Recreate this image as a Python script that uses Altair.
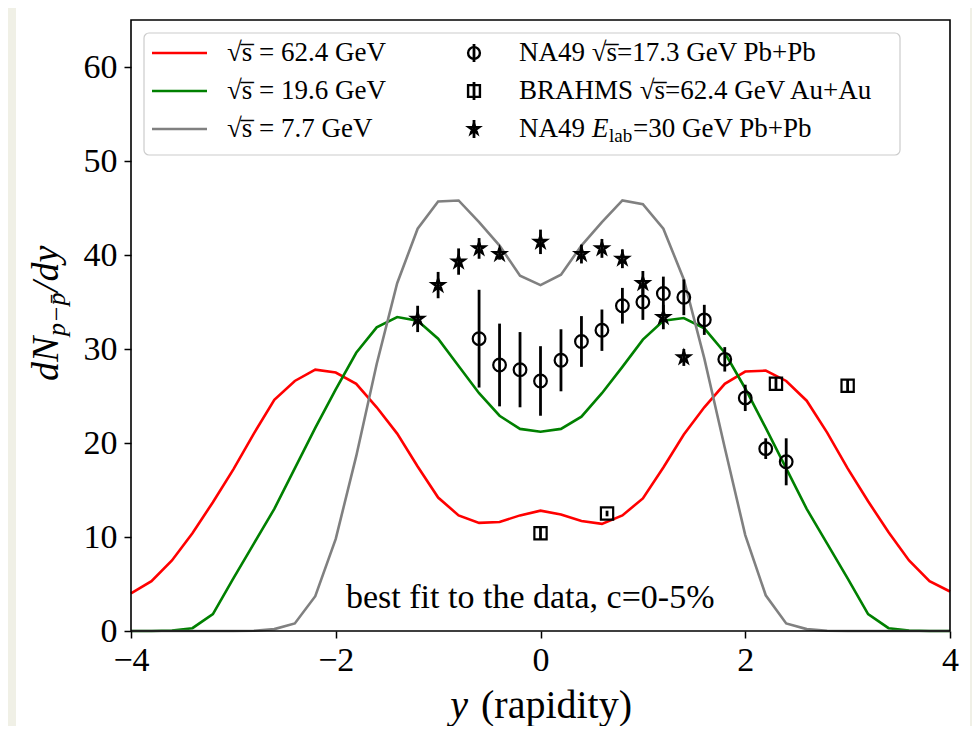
import altair as alt
import pandas as pd

# ---------------- data ----------------
rapidity = [-4.0, -3.8, -3.6, -3.4, -3.2, -3.0, -2.8, -2.6, -2.4, -2.2, -2.0,
            -1.8, -1.6, -1.4, -1.2, -1.0, -0.8, -0.6, -0.4, -0.2, 0.0,
            0.2, 0.4, 0.6, 0.8, 1.0, 1.2, 1.4, 1.6, 1.8, 2.0,
            2.2, 2.4, 2.6, 2.8, 3.0, 3.2, 3.4, 3.6, 3.8, 4.0]

curve_624 = [4.0, 5.3, 7.5, 10.4, 13.7, 17.2, 21.0, 24.6, 26.6, 27.8, 27.5,
             26.3, 23.8, 21.0, 17.5, 14.2, 12.3, 11.5, 11.6, 12.3, 12.8,
             12.4, 11.7, 11.4, 12.3, 14.1, 17.4, 20.9, 23.8, 26.3, 27.6,
             27.7, 26.6, 24.5, 21.1, 17.3, 13.8, 10.5, 7.5, 5.3, 4.2]

curve_196 = [0.0, 0.0, 0.05, 0.3, 1.8, 5.6, 9.3, 13.0, 17.3, 21.6, 25.7,
             29.6, 32.3, 33.4, 33.0, 31.1, 28.2, 25.3, 22.9, 21.5, 21.2,
             21.5, 22.8, 25.3, 28.1, 31.0, 33.0, 33.3, 32.2, 29.6, 25.8,
             21.6, 17.3, 13.0, 9.3, 5.6, 1.8, 0.3, 0.05, 0.0, 0.0]

curve_77 = [0.0, 0.0, 0.0, 0.0, 0.0, 0.0, 0.02, 0.2, 0.8, 3.7, 9.8,
            18.6, 28.4, 37.0, 42.8, 45.7, 45.8, 43.5, 41.0, 37.8, 36.8,
            37.9, 41.0, 43.5, 45.8, 45.4, 42.8, 37.4, 29.0, 19.5, 10.2,
            3.8, 0.8, 0.2, 0.02, 0.0, 0.0, 0.0, 0.0, 0.0, 0.0]

curve_labels = ["√s̅ = 62.4 GeV", "√s̅ = 19.6 GeV", "√s̅ = 7.7 GeV"]
curve_colors = ["#ff0000", "#008000", "#808080"]

na49_173_x = [-0.6, -0.4, -0.2, 0.0, 0.2, 0.4, 0.6, 0.8, 1.0, 1.2, 1.4, 1.6, 1.8, 2.0, 2.2, 2.4]
na49_173_v = [31.1, 28.3, 27.8, 26.6, 28.8, 30.8, 32.0, 34.6, 35.0, 35.9, 35.5, 33.1, 28.9, 24.8, 19.4, 18.0]
na49_173_e = [5.2, 4.4, 4.0, 3.7, 3.3, 2.7, 2.2, 1.9, 1.9, 1.8, 1.9, 1.6, 1.3, 1.4, 1.1, 2.5]

brahms_x = [0.0, 0.65, 2.3, 3.0]
brahms_v = [10.4, 12.5, 26.3, 26.1]
brahms_e = [0.7, 0.3, 0.7, 0.7]

na49_30_x = [-1.2, -1.0, -0.8, -0.6, -0.4, 0.0, 0.4, 0.6, 0.8, 1.0, 1.2, 1.4]
na49_30_v = [33.2, 36.8, 39.3, 40.7, 40.1, 41.4, 40.1, 40.7, 39.6, 37.0, 33.4, 29.1]
na49_30_e = [1.4, 1.4, 1.4, 1.1, 0.6, 1.3, 1.0, 1.0, 1.0, 1.3, 1.3, 0.9]

data_labels = ["NA49 √s̅=17.3 GeV Pb+Pb", "BRAHMS √s̅=62.4 GeV Au+Au", "NA49 ", "E", "lab", "=30 GeV Pb+Pb"]
x_ticks = [-4, -2, 0, 2, 4]
y_ticks = [0, 10, 20, 30, 40, 50, 60]
annotation = "best fit to the data, c=0-5%"
x_title = ["y", "(rapidity)"]
y_title = ["dN", "p−p̄", "/dy"]

# ---------------- layout ----------------
W, H = 819, 611
FONT = "Liberation Serif"
BEIGE = "#f0f0e6"
STAR = ("M0,-1L0.2245,-0.309L0.951,-0.309L0.3633,0.118L0.5878,0.809L0,0.382"
        "L-0.5878,0.809L-0.3633,0.118L-0.951,-0.309L-0.2245,-0.309Z")

xs = alt.Scale(domain=[-4, 4], nice=False, zero=False)
ys = alt.Scale(domain=[0, 65], nice=False, zero=False)
X_AX = alt.Axis(values=x_ticks, title=None, format="d", zindex=1, labelPadding=5, labelFlush=False)
Y_AX = alt.Axis(values=y_ticks, title=None, format="d", zindex=1, labelPadding=7, labelFlush=False)

one = pd.DataFrame({"k": [0]})


def deco_text(s, x, y, size, style="normal", align="left", angle=0, baseline="alphabetic"):
    return alt.Chart(pd.DataFrame({"t": [s]})).mark_text(
        font=FONT, fontSize=size, fontStyle=style, align=align, angle=angle,
        baseline=baseline, color="black"
    ).encode(x=alt.value(x), y=alt.value(y), text="t:N")


layers = []

# white figure sheet over beige page
layers.append(alt.Chart(one).mark_rect(color="white").encode(
    x=alt.value(-115), x2=alt.value(W + 20), y=alt.value(-16), y2=alt.value(H + 110)))

# model curves
for vals, col in zip([curve_624, curve_196, curve_77], curve_colors):
    df = pd.DataFrame({"y": rapidity, "v": vals})
    layers.append(alt.Chart(df).mark_line(color=col, strokeWidth=2.6).encode(
        x=alt.X("y:Q", scale=xs, axis=X_AX), y=alt.Y("v:Q", scale=ys, axis=Y_AX)))


def errpoints(xv, vv, ev, shape, size, filled, sw):
    df = pd.DataFrame({"y": xv, "v": vv, "lo": [a - b for a, b in zip(vv, ev)],
                       "hi": [a + b for a, b in zip(vv, ev)]})
    bars = alt.Chart(df).mark_rule(color="black", strokeWidth=2.8).encode(
        x=alt.X("y:Q", scale=xs), y=alt.Y("lo:Q", scale=ys), y2="hi:Q")
    pts = alt.Chart(df).mark_point(shape=shape, size=size, filled=filled, color="black",
                                   strokeWidth=sw, opacity=1).encode(
        x=alt.X("y:Q", scale=xs), y=alt.Y("v:Q", scale=ys))
    return [bars, pts]


layers += errpoints(na49_173_x, na49_173_v, na49_173_e, "circle", 160, False, 2.2)
layers += errpoints(brahms_x, brahms_v, brahms_e, "square", 150, False, 2.2)
layers += errpoints(na49_30_x, na49_30_v, na49_30_e, STAR, 150, False, 2.4)

# annotation (data coords)
layers.append(alt.Chart(pd.DataFrame({"y": [-0.1], "v": [3.5], "t": [annotation]})).mark_text(
    font=FONT, fontSize=34, baseline="middle", align="center", color="black").encode(
    x=alt.X("y:Q", scale=xs), y=alt.Y("v:Q", scale=ys), text="t:N"))

# frame
layers.append(alt.Chart(one).mark_rect(fill="white", fillOpacity=0, stroke="black", strokeWidth=1.6).encode(
    x=alt.value(0), x2=alt.value(W), y=alt.value(0), y2=alt.value(H)))

# legend box
layers.append(alt.Chart(one).mark_rect(fill="white", fillOpacity=0.8, stroke="#cccccc",
                                       strokeWidth=1.2, cornerRadius=5).encode(
    x=alt.value(13), x2=alt.value(769), y=alt.value(13), y2=alt.value(135)))

LFS = 27
rows = [33, 71, 109]
for i in range(3):
    layers.append(alt.Chart(one).mark_rule(color=curve_colors[i], strokeWidth=2.6).encode(
        x=alt.value(21), x2=alt.value(76), y=alt.value(rows[i])))
    layers.append(deco_text(curve_labels[i], 96, rows[i], LFS, baseline="middle"))

shapes = ["circle", "square", STAR]
sizes = [140, 140, 120]
for i in range(3):
    layers.append(alt.Chart(one).mark_rule(color="black", strokeWidth=2.8).encode(
        x=alt.value(343), y=alt.value(rows[i] - 9), y2=alt.value(rows[i] + 9)))
    layers.append(alt.Chart(one).mark_point(shape=shapes[i], size=sizes[i], filled=False, color="black",
                                            strokeWidth=2.4, opacity=1).encode(
        x=alt.value(343), y=alt.value(rows[i])))

layers.append(deco_text(data_labels[0], 388, rows[0], LFS, baseline="middle"))
layers.append(deco_text(data_labels[1], 388, rows[1], LFS, baseline="middle"))
layers.append(deco_text(data_labels[2], 388, rows[2], LFS, baseline="middle"))
layers.append(deco_text(data_labels[3], 461, rows[2], LFS, style="italic", baseline="middle"))
layers.append(deco_text(data_labels[4], 478, rows[2] + 7, 19, baseline="middle"))
layers.append(deco_text(data_labels[5], 502, rows[2], LFS, baseline="middle"))

# axis titles
layers.append(deco_text(x_title[0], 337, 698, 40, style="italic", align="right"))
layers.append(deco_text(x_title[1], 350, 698, 40))
layers.append(deco_text(y_title[0], -73, 361, 38, style="italic", angle=270))
layers.append(deco_text(y_title[1], -66, 316, 26, style="italic", angle=270))
layers.append(deco_text(y_title[2], -73, 272, 38, style="italic", angle=270))

chart = alt.layer(*layers).properties(
    width=W, height=H,
    autosize=alt.AutoSizeParams(type="none"),
    padding={"left": 123, "top": 12, "right": 22, "bottom": 95},
    background=BEIGE,
).configure_view(stroke=None).configure_axis(
    labelFont=FONT, labelFontSize=34, labelColor="black", tickColor="black",
    tickSize=7, tickWidth=1.5, domain=False, grid=False, zindex=1,
)

chart.save("out.html", embed_options={"renderer": "svg", "actions": False})
